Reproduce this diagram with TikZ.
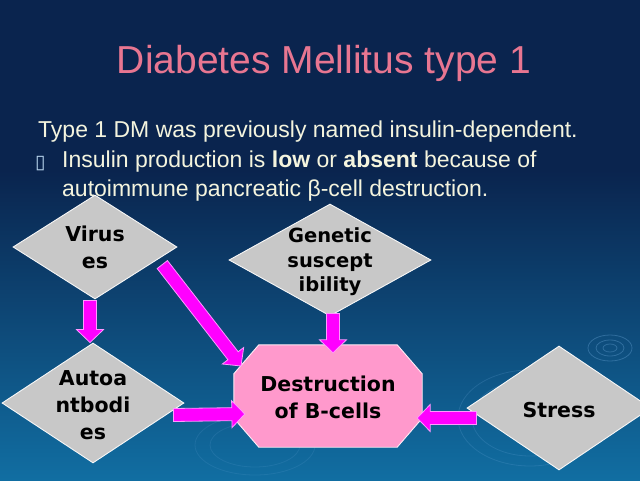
\documentclass[tikz,border=0pt]{standalone}
\usepackage{fontspec}
\setmainfont{Liberation Sans}
\newfontfamily\dvs{DejaVu Sans}
\usetikzlibrary{calc,shapes.geometric}
\definecolor{navy}{RGB}{10,36,78}
\definecolor{seablue}{RGB}{17,110,162}
\definecolor{titlepink}{RGB}{232,118,145}
\definecolor{cream}{RGB}{244,244,222}
\definecolor{diagray}{RGB}{200,200,200}
\definecolor{octpink}{RGB}{255,153,204}
\definecolor{arrmag}{RGB}{255,0,255}
\definecolor{ripple}{RGB}{110,170,220}
\newcommand\blockarr[2]{%
  \coordinate (ba-h) at ($(#2)!13pt!(#1)$);
  \filldraw[arrowfill] ($(#1)!6.5pt!90:(#2)$) -- ($(ba-h)!6.5pt!-90:(#1)$)
    -- ($(ba-h)!13.5pt!-90:(#1)$) -- (#2) -- ($(ba-h)!13.5pt!90:(#1)$)
    -- ($(ba-h)!6.5pt!90:(#1)$) -- ($(#1)!6.5pt!-90:(#2)$) -- cycle;}
\begin{document}
\begin{tikzpicture}[x=1pt,y=-1pt,
  dia/.style={diamond, fill=diagray, draw=white!85!diagray, line width=0.9pt, inner sep=0pt},
  lbl/.style={font=\dvs\bfseries\fontsize{20.5}{27}\selectfont, align=center, inner sep=0pt, text=black},
  body/.style={font=\fontsize{23}{28}\selectfont, text=cream, inner sep=0pt},
  arrowfill/.style={fill=arrmag, draw=white!60!arrmag, line width=0.8pt, line join=miter},
  octfill/.style={fill=octpink, draw=white!80!octpink, line width=0.9pt},
  rip/.style={draw=ripple, line width=0.8pt, opacity=0.35}]
\useasboundingbox (0,0) rectangle (640,480);
\clip (0,0) rectangle (640,480);
\fill[navy] (0,0) rectangle (640,171);
\shade[top color=navy, bottom color=seablue] (0,170) rectangle (640,480);
% faint ripples
\draw[rip] (610,348) ellipse (22 and 13);
\draw[rip] (610,348) ellipse (14 and 8);
\draw[rip] (610,348) ellipse (7 and 4);
\draw[rip, opacity=0.2] (530,418) ellipse (72 and 48);
\draw[rip, opacity=0.2] (530,418) ellipse (58 and 38);
\draw[rip, opacity=0.15] (255,445) ellipse (60 and 30);
\draw[rip, opacity=0.15] (255,445) ellipse (45 and 22);
% title and text
\node[font=\fontsize{39}{47}\selectfont, text=titlepink, anchor=base, inner sep=0pt] (title) at (324,73) {Diabetes Mellitus type 1};
\node[body, anchor=base west] (l1) at (38,137) {Type 1 DM was previously named insulin-dependent.};
\node[font=\dvs\fontsize{19}{22}\selectfont, text=ripple!50!white, anchor=base west, inner sep=0pt] (bul) at (35,168) {▯};
\node[body, anchor=base west] (l2) at (62,167) {Insulin production is \textbf{low} or \textbf{absent} because of};
\node[body, anchor=base west] (l3) at (62,196) {autoimmune pancreatic β-cell destruction.};
% shapes
\node[dia, minimum width=164pt, minimum height=104pt] (virus) at (95,247) {};
\node[lbl] (virus-t) at (virus) {Virus\\es};
\node[dia, minimum width=202pt, minimum height=112pt] (gen) at (330,260) {};
\node[lbl, font=\dvs\bfseries\fontsize{19.5}{24.5}\selectfont] (gen-t) at ($(gen)+(0,2)$) {Genetic\\suscept\\ibility};
\node[dia, minimum width=182pt, minimum height=120pt] (auto) at (93,403) {};
\node[lbl] (auto-t) at ($(auto)+(0,2)$) {Autoa\\ntbodi\\es};
\node[dia, minimum width=184pt, minimum height=124pt] (stress) at (559,408) {};
\node[lbl] (stress-t) at ($(stress)+(0,2)$) {Stress};
\node[rectangle, inner sep=0pt, minimum width=188pt, minimum height=102pt] (dest) at (328,396) {};
\filldraw[octfill] ($(dest.north west)+(25,0)$) -- ($(dest.north east)+(-25,0)$)
  -- ($(dest.north east)+(0,29)$) -- ($(dest.south east)+(0,-29)$)
  -- ($(dest.south east)+(-25,0)$) -- ($(dest.south west)+(25,0)$)
  -- ($(dest.south west)+(0,-29)$) -- ($(dest.north west)+(0,29)$) -- cycle;
\node[lbl] (dest-t) at ($(dest)+(0,1)$) {Destruction\\of B-cells};
% arrows
\coordinate (a1s) at ($(virus.south)+(-5,1)$);
\coordinate (a1e) at ($(auto.north)+(-3,0)$);
\blockarr{a1s}{a1e}
\coordinate (a2s) at ($(virus.east)!0.22!(virus.south)+(3,6)$);
\coordinate (a2e) at ($(dest.center)+(-87,-30)$);
\blockarr{a2s}{a2e}
\coordinate (a3s) at ($(gen.south)+(3,-3)$);
\coordinate (a3e) at ($(dest.north)+(5,8)$);
\blockarr{a3s}{a3e}
\coordinate (a4s) at ($(auto.east)+(-11,12)$);
\coordinate (a4e) at ($(dest.west)+(11,18)$);
\blockarr{a4s}{a4e}
\coordinate (a5s) at ($(stress.west)+(10,10)$);
\coordinate (a5e) at ($(dest.east)+(-5,22)$);
\blockarr{a5s}{a5e}
\end{tikzpicture}
\end{document}
